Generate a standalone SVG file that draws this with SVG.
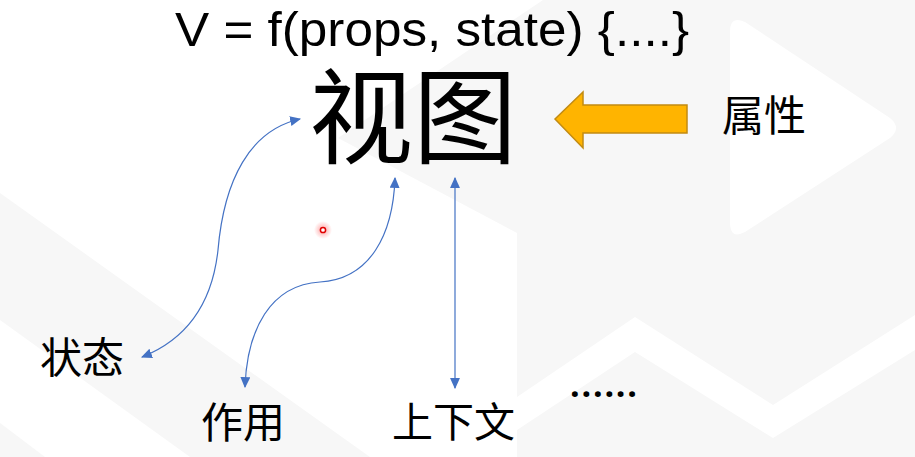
<svg xmlns="http://www.w3.org/2000/svg" width="915" height="457" viewBox="0 0 915 457">
  <style>
    .bg { fill: #f7f7f7; }
    .wh { fill: #ffffff; }
    .lbl { font-family: "Noto Sans CJK SC", "Noto Sans", sans-serif; fill: #000; }
    .lat { font-family: "Liberation Sans", "Open Sans", sans-serif; fill: #000; }
    .dots { font-family: "Open Sans", "Liberation Sans", sans-serif; font-weight: bold; fill: #000; }
    .conn { fill: none; stroke: #4472C4; stroke-width: 1.2; }
  </style>
  <defs>
    <marker id="ah" viewBox="0 0 10 9" refX="9" refY="4.5" markerWidth="11" markerHeight="10" markerUnits="userSpaceOnUse" orient="auto-start-reverse">
      <path d="M0,0 L10,4.5 L0,9 z" fill="#4472C4"/>
    </marker>
    <radialGradient id="glow">
      <stop offset="0" stop-color="#ff3030" stop-opacity="0.45"/>
      <stop offset="1" stop-color="#ff3030" stop-opacity="0"/>
    </radialGradient>
  </defs>

  <g id="background">
    <rect x="0" y="0" width="915" height="457" fill="#ffffff"/>
    <polygon class="bg" points="543,0 915,0 915,457 517,457 517,233 338,138"/>
    <path class="wh" d="M745,22 Q730,15 730,32 L730,222 Q730,240 745,232 L890,138 Q902,128 890,118 Z"/>
    <polygon class="wh" points="517,397 635,317 773,405 915,315 915,350 773,438 635,352 517,430"/>
    <polygon class="bg" points="0,193 370,457 190,457 0,320"/>
    <polygon class="bg" points="0,423 45,457 0,457"/>
  </g>

  <g id="formula">
    <text class="lat" x="175" y="46" font-size="48" textLength="514" lengthAdjust="spacingAndGlyphs">V = f(props, state) {....}</text>
  </g>

  <g id="view">
    <text class="lbl" x="309" y="156" font-size="104">视图</text>
  </g>

  <g id="props">
    <polygon points="555,119 583,92 583,105 687,105 687,133 583,133 583,148" fill="#FFB400" stroke="#C28B12" stroke-width="1.5" stroke-linejoin="miter"/>
    <text class="lbl" x="722" y="131" font-size="42">属性</text>
  </g>

  <g id="state">
    <text class="lbl" x="40" y="373" font-size="42">状态</text>
  </g>

  <g id="effect">
    <text class="lbl" x="201" y="438" font-size="42">作用</text>
  </g>

  <g id="context">
    <text class="lbl" x="392" y="437" font-size="41">上下文</text>
  </g>

  <g id="more">
    <text class="dots" x="570" y="397" font-size="34" textLength="67" lengthAdjust="spacing">......</text>
  </g>

  <g id="connectors">
    <path class="conn" d="M142,357 C185,340 212,305 218,250 C224,180 250,130 300,119" marker-start="url(#ah)" marker-end="url(#ah)"/>
    <path class="conn" d="M245,387 C247,330 270,285 320,282 C370,279 393,235 395,178" marker-start="url(#ah)" marker-end="url(#ah)"/>
    <path class="conn" d="M455,178 L455,388" marker-start="url(#ah)" marker-end="url(#ah)"/>
  </g>

  <g id="pointer">
    <circle cx="323" cy="230" r="9" fill="url(#glow)"/>
    <circle cx="323" cy="230" r="2.6" fill="#fff" stroke="#e00000" stroke-width="1.5"/>
  </g>
</svg>
